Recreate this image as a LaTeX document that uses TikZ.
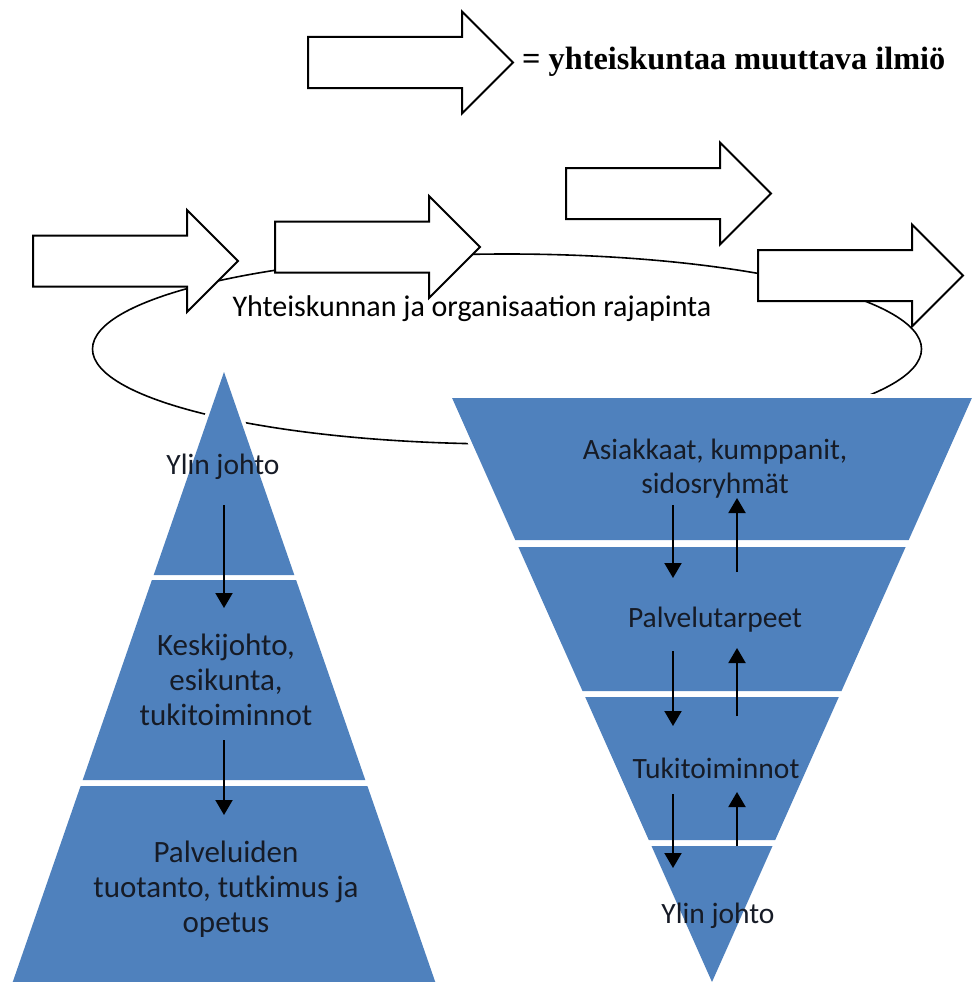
\documentclass[tikz,border=0pt]{standalone}
\usepackage{fontspec}
\setmainfont{Carlito}
\newfontfamily\legendfont{Liberation Serif}
\usetikzlibrary{arrows.meta}
\definecolor{pyrblue}{HTML}{4F81BD}
\definecolor{pyrtext}{HTML}{161B26}

\begin{document}
\begin{tikzpicture}[x=1pt,y=-1pt,
  blockarrow/.pic={\draw[line width=2pt,fill=white,line join=miter]
      (0,-25.5) -- (154,-25.5) -- (154,-51) -- (205,0) -- (154,51)
      -- (154,25.5) -- (0,25.5) -- cycle;},
  flow/.style={line width=2pt,-{Triangle[width=17pt,length=15pt]}},
  layer/.style={fill=pyrblue},
  halo/.style={draw=white,line width=8pt,line join=miter},
  lbl/.style={font=\fontsize{29.5}{34}\selectfont,text=pyrtext,align=center,inner sep=0pt},
  lblbig/.style={lbl,font=\fontsize{31}{35}\selectfont},
]
\useasboundingbox (0,0) rectangle (974,982);
\clip (0,0) rectangle (974,982);

% legend
\pic at (308,62.5) {blockarrow};
\node[anchor=west,inner sep=0pt,font=\legendfont\bfseries\fontsize{32.3}{36}\selectfont]
  (legend) at (522,62) {= yhteiskuntaa muuttava ilmiö};

% boundary between society and organisation
\draw[line width=1.6pt] (507,349) ellipse [x radius=414.5pt, y radius=95pt];
\node[font=\fontsize{30}{34}\selectfont,inner sep=0pt] (boundary) at (472,309)
  {Yhteiskunnan ja organisaation rajapinta};

% phenomena changing society
\pic at (33,261) {blockarrow};
\pic at (275,247) {blockarrow};
\pic at (566,193.5) {blockarrow};
\pic at (758,275.5) {blockarrow};

% traditional pyramid
\draw[halo] (224,372) -- (6.5,1000) -- (441.5,1000) -- cycle;
\fill[layer] (224,372) -- (153.7,575) -- (294.3,575) -- cycle;
\fill[layer] (151.9,580) -- (296.1,580) -- (365.3,780) -- (82.7,780) -- cycle;
\fill[layer] (80.6,786) -- (367.4,786) -- (441.5,1000) -- (6.5,1000) -- cycle;

% inverted pyramid
\draw[halo] (452.1,398) -- (971.9,398) -- (712,982) -- cycle;
\fill[layer] (452.1,398) -- (971.9,398) -- (908.7,540) -- (515.3,540) -- cycle;
\fill[layer] (518.4,547) -- (905.6,547) -- (841.5,691) -- (582.5,691) -- cycle;
\fill[layer] (585.2,697) -- (838.8,697) -- (775.2,840) -- (648.8,840) -- cycle;
\fill[layer] (651.5,846) -- (772.5,846) -- (712,982) -- cycle;

% texts of the traditional pyramid
\node[lbl] (topL) at (223,467) {Ylin johto};
\node[lblbig] (midL) at (226,680) {Keskijohto,\\esikunta,\\tukitoiminnot};
\node[lblbig] (botL) at (226,889) {Palveluiden\\tuotanto, tutkimus ja\\opetus};

% texts of the inverted pyramid
\node[lbl] (r1) at (715,469) {Asiakkaat, kumppanit,\\sidosryhmät};
\node[lbl] (r2) at (715,620) {Palvelutarpeet};
\node[lbl] (r3) at (716,768) {Tukitoiminnot};
\node[lbl] (r4) at (718,916) {Ylin johto};

% flow arrows, traditional
\coordinate (l1s) at (224,505); \coordinate (l1e) at (224,608);
\coordinate (l2s) at (224,740); \coordinate (l2e) at (224,815);
\draw[flow] (l1s) -- (l1e);
\draw[flow] (l2s) -- (l2e);

% flow arrows, inverted: down and up
\coordinate (d1s) at (673,505); \coordinate (d1e) at (673,578);
\coordinate (d2s) at (673,651); \coordinate (d2e) at (673,726);
\coordinate (d3s) at (673,794); \coordinate (d3e) at (673,868);
\coordinate (u1s) at (737,572); \coordinate (u1e) at (737,498);
\coordinate (u2s) at (737,716); \coordinate (u2e) at (737,648);
\coordinate (u3s) at (737,846); \coordinate (u3e) at (737,792);
\foreach \a in {d1,d2,d3,u1,u2,u3} \draw[flow] (\a s) -- (\a e);
\end{tikzpicture}
\end{document}
